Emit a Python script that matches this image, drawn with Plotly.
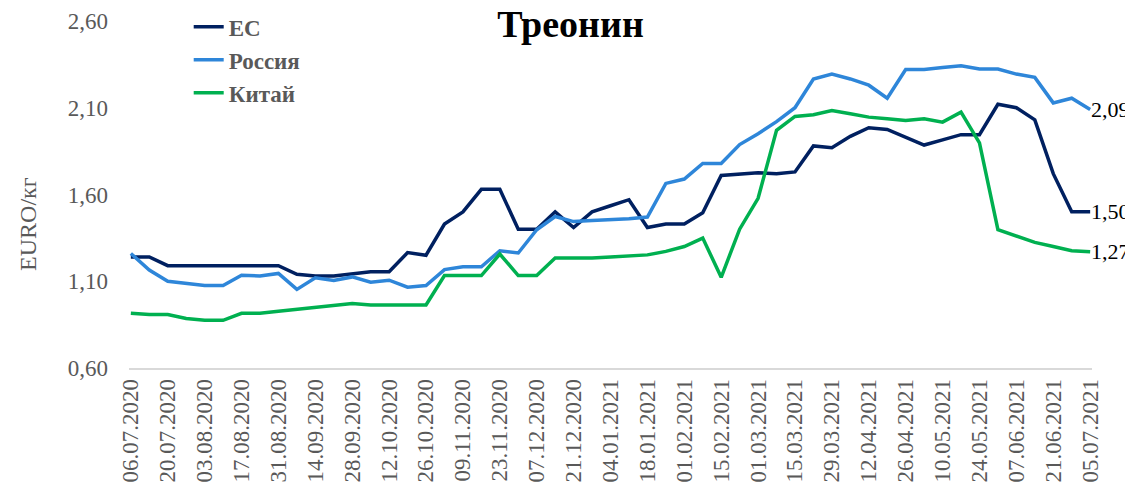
import plotly.graph_objects as go

dates = ["06.07.2020", "13.07.2020", "20.07.2020", "27.07.2020", "03.08.2020", "10.08.2020",
         "17.08.2020", "24.08.2020", "31.08.2020", "07.09.2020", "14.09.2020", "21.09.2020",
         "28.09.2020", "05.10.2020", "12.10.2020", "19.10.2020", "26.10.2020", "02.11.2020",
         "09.11.2020", "16.11.2020", "23.11.2020", "30.11.2020", "07.12.2020", "14.12.2020",
         "21.12.2020", "28.12.2020", "04.01.2021", "11.01.2021", "18.01.2021", "25.01.2021",
         "01.02.2021", "08.02.2021", "15.02.2021", "22.02.2021", "01.03.2021", "08.03.2021",
         "15.03.2021", "22.03.2021", "29.03.2021", "05.04.2021", "12.04.2021", "19.04.2021",
         "26.04.2021", "03.05.2021", "10.05.2021", "17.05.2021", "24.05.2021", "31.05.2021",
         "07.06.2021", "14.06.2021", "21.06.2021", "28.06.2021", "05.07.2021"]

eu = [1.24, 1.24, 1.19, 1.19, 1.19, 1.19, 1.19, 1.19, 1.19, 1.14, 1.13, 1.13, 1.14, 1.155, 1.155,
      1.265, 1.25, 1.43, 1.50, 1.63, 1.63, 1.40, 1.40, 1.50, 1.41, 1.50, 1.535, 1.57, 1.41, 1.43,
      1.43, 1.495, 1.71, 1.72, 1.725, 1.72, 1.73, 1.88, 1.87, 1.935, 1.985, 1.975, 1.93, 1.885,
      1.915, 1.945, 1.945, 2.12, 2.10, 2.03, 1.72, 1.50, 1.50]

russia = [1.26, 1.165, 1.10, 1.085, 1.075, 1.075, 1.135, 1.13, 1.145, 1.053, 1.12, 1.104, 1.125,
          1.095, 1.106, 1.066, 1.075, 1.167, 1.183, 1.183, 1.276, 1.263, 1.397, 1.473, 1.444, 1.45,
          1.454, 1.46, 1.47, 1.664, 1.689, 1.779, 1.779, 1.888, 1.95, 2.02, 2.10, 2.266, 2.294,
          2.266, 2.23, 2.155, 2.32, 2.32, 2.332, 2.342, 2.323, 2.323, 2.294, 2.275, 2.128, 2.155, 2.09]

china = [0.915, 0.908, 0.908, 0.885, 0.875, 0.875, 0.915, 0.915, 0.927, 0.938, 0.951, 0.957, 0.972,
         0.963, 0.963, 0.963, 0.963, 1.133, 1.133, 1.133, 1.257, 1.133, 1.133, 1.234, 1.234, 1.234,
         1.24, 1.244, 1.252, 1.272, 1.30, 1.349, 1.123, 1.40, 1.578, 1.97, 2.05, 2.06, 2.084, 2.065,
         2.046, 2.037, 2.027, 2.037, 2.017, 2.075, 1.897, 1.397, 1.358, 1.324, 1.30, 1.276, 1.27]

series_names = ["ЕС", "Россия", "Китай"]
series_values = [eu, russia, china]
series_colors = ["#002060", "#2E86D9", "#00B050"]

y_ticks = [0.60, 1.10, 1.60, 2.10, 2.60]

FONT = "Liberation Serif"
GRAY = "#595959"

# the page body has an 8px margin, so the figure is sized to fit the window
W, H = 1125, 485

x = list(range(len(dates)))
tick_idx = list(range(0, len(dates), 2))

fig = go.Figure()
for name, vals, col in zip(series_names, series_values, series_colors):
    fig.add_trace(go.Scatter(x=x, y=vals, mode="lines", name=name,
                             line=dict(color=col, width=3.5)))

# end-of-line value labels
for vals in series_values:
    fig.add_annotation(x=x[-1], y=vals[-1], text=f"{vals[-1]:.2f}".replace(".", ","),
                       showarrow=False, xanchor="left", yanchor="middle", xshift=-1,
                       font=dict(family=FONT, size=22, color="black"))

# y-axis title (placed slightly below centre, as in the original)
fig.add_annotation(xref="paper", yref="paper", x=-0.105, y=0.415, text="EURO/кг",
                   textangle=-90, showarrow=False, xanchor="center", yanchor="middle",
                   font=dict(family=FONT, size=24, color=GRAY))

fig.update_layout(
    width=W, height=H,
    margin=dict(l=121, r=41, t=13, b=125, autoexpand=False),
    paper_bgcolor="white", plot_bgcolor="white",
    separators=", ",
    title=dict(text="<b>Треонин</b>", x=0.5, xanchor="center", y=1 - 16 / H,
               yanchor="middle", yref="container",
               font=dict(family=FONT, size=38, color="black")),
    legend=dict(x=0.062, y=1.045, xanchor="left", yanchor="top",
                font=dict(family=FONT, size=23, color=GRAY, weight="bold"),
                bgcolor="rgba(0,0,0,0)", itemwidth=30),
    showlegend=True,
)

fig.update_xaxes(range=[-0.1, len(dates) - 1 + 0.1], tickmode="array",
                 tickvals=tick_idx, ticktext=[dates[i] for i in tick_idx],
                 tickangle=-90, showgrid=False, zeroline=False, automargin=False,
                 showline=True, linecolor="#D9D9D9", linewidth=1.5, ticks="",
                 tickfont=dict(family=FONT, size=23, color=GRAY))

fig.update_yaxes(range=[0.6, 2.6], tickmode="array", tickvals=y_ticks,
                 tickformat=".2f", showgrid=False, zeroline=False, showline=False,
                 ticks="", ticklabelstandoff=20, automargin=False,
                 tickfont=dict(family=FONT, size=23, color=GRAY))

fig.write_html("out.html")
